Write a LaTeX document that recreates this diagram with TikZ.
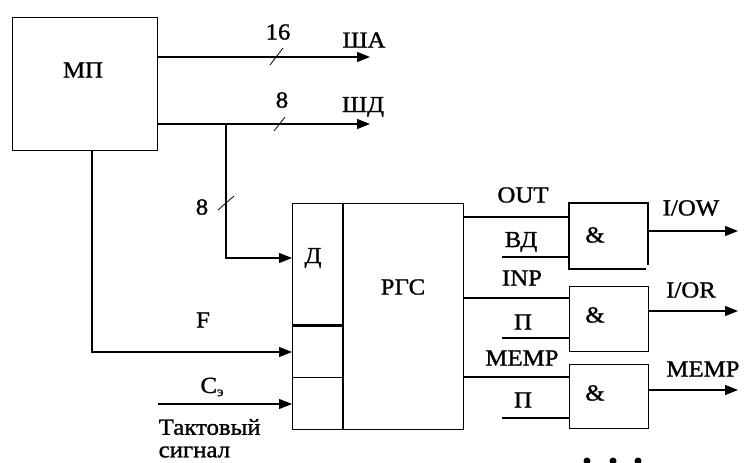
\documentclass[tikz,border=0pt]{standalone}
\usepackage{fontspec}
\setmainfont{Liberation Serif}[FakeStretch=1.08,FakeBold=1.2]
\usetikzlibrary{arrows.meta}
\begin{document}
\begin{tikzpicture}[x=1pt,y=-1pt, line width=1.4pt,
 box/.style={draw, inner sep=0pt, anchor=north west},
 arr/.style={-{Triangle[length=13pt,width=10pt]}},
 lbl/.style={font=\fontsize{23}{24}\selectfont, inner sep=0pt},
 slash/.style={line width=0.8pt},
 thickline/.style={line width=2.6pt}]
\useasboundingbox (0,0) rectangle (747,463);
% MP block
\node[box, minimum width=145pt, minimum height=133pt] (mp) at (12,17) {};
\node[lbl] (mpt) at (83,70) {МП};
% buses
\coordinate (sha) at (370,57);
\coordinate (shd) at (370,124);
\draw[arr] (mp.east |- sha) -- (sha);
\draw[arr] (mp.east |- shd) -- (shd);
\draw[slash] (270,65) -- (283,48);
\draw[slash] (274,131) -- (285,117);
\node[lbl] (n16) at (278,32) {16};
\node[lbl] (n8a) at (282,100) {8};
\node[lbl] (sa) at (364,40) {ША};
\node[lbl] (sd) at (363,107) {ШД};
% register
\node[box, minimum width=51pt, minimum height=121pt] (d) at (292,203) {};
\node[box, minimum width=51pt, minimum height=53pt] (c2) at (292,324) {};
\node[box, minimum width=51pt, minimum height=52pt] (c3) at (292,377) {};
\node[box, minimum width=120pt, minimum height=226pt] (rgs) at (343,203) {};
\draw[thickline] (rgs.north west) -- (rgs.south west);
\draw[thickline] (d.south west) -- (d.south east);
\node[lbl] (dt) at (313,258) {Д};
\node[lbl] (rgst) at (403,287) {РГС};
% branch to D
\coordinate (br) at (226,124);
\coordinate (bc) at (226,258);
\draw[arr] (br) -- (bc) -- (bc -| d.west);
\draw[slash] (218,210) -- (234,196);
\node[lbl] (n8b) at (202,207) {8};
% F line
\coordinate (f0) at (92,150);
\coordinate (f1) at (92,352);
\draw[arr] (f0) -- (f1) -- (f1 -| c2.west);
\node[lbl] (ft) at (203,320) {F};
% clock
\coordinate (c0) at (158,404);
\draw[arr] (c0) -- (c0 -| c3.west);
\node[lbl] (ct) at (212,387) {C\raisebox{-0.3ex}{\fontsize{14}{15}\selectfont э}};
\node[lbl, anchor=west] (tk1) at (158,427) {Тактовый};
\node[lbl, anchor=west] (tk2) at (158,452) {сигнал};
% gates
\node[box, draw=none, minimum width=79pt, minimum height=66pt] (g1) at (569,203) {};
\draw (648,265) -- (648,203) -- (569,203) -- (569,269) -- (646,269);
\node[box, minimum width=79pt, minimum height=65pt] (g2) at (569,286) {};
\node[box, minimum width=79pt, minimum height=64pt] (g3) at (569,364) {};
\node[lbl] (a1) at (595,235) {\&};
\node[lbl] (a2) at (595,315) {\&};
\node[lbl] (a3) at (595,393) {\&};
% rgs to gates
\coordinate (l1) at (500,217);
\coordinate (l2) at (500,298);
\coordinate (l3) at (500,377);
\draw (rgs.east |- l1) -- (g1.west |- l1);
\draw (rgs.east |- l2) -- (g2.west |- l2);
\draw (rgs.east |- l3) -- (g3.west |- l3);
\coordinate (m1) at (502,257);
\coordinate (m2) at (502,338);
\coordinate (m3) at (502,418);
\draw (m1) -- (m1 -| g1.west);
\draw (m2) -- (m2 -| g2.west);
\draw (m3) -- (m3 -| g3.west);
\node[lbl] (outt) at (523,195) {OUT};
\node[lbl] (vdt) at (521,242) {ВД};
\node[lbl] (inpt) at (522,278) {INP};
\node[lbl] (p1t) at (523,322) {П};
\node[lbl] (mempt) at (522,358) {MEMP};
\node[lbl] (p2t) at (523,400) {П};
% outputs
\coordinate (o1) at (738,231);
\coordinate (o2) at (738,311);
\coordinate (o3) at (738,390);
\draw[arr] (g1.east |- o1) -- (o1);
\draw[arr] (g2.east |- o2) -- (o2);
\draw[arr] (g3.east |- o3) -- (o3);
\node[lbl] (iow) at (691,208) {I/OW};
\node[lbl] (ior) at (691,290) {I/OR};
\node[lbl] (memo) at (703,369) {MEMP};
% dots
\fill (587,461) circle (3.5pt);
\fill (613,461) circle (3.5pt);
\fill (638,461) circle (3.5pt);
\end{tikzpicture}
\end{document}
